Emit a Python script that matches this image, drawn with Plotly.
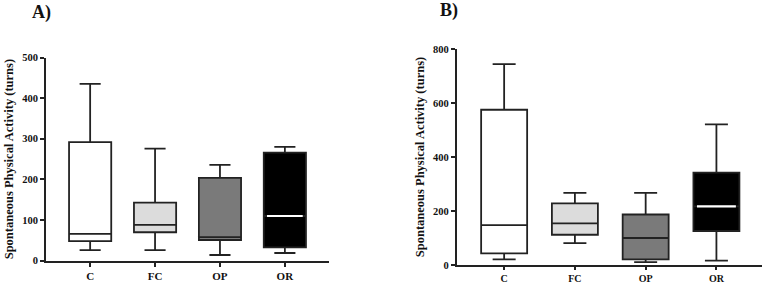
import plotly.graph_objects as go

categories = ["C", "FC", "OP", "OR"]
fills = ["#ffffff", "#dcdcdc", "#7a7a7a", "#000000"]
median_colors = ["#222222", "#222222", "#222222", "#ffffff"]

# Panel A
a_low = [26, 26, 14, 19]
a_q1 = [48, 70, 51, 33]
a_med = [66, 88, 58, 110]
a_q3 = [292, 143, 204, 266]
a_high = [435, 276, 236, 280]

# Panel B
b_low = [21, 81, 11, 16]
b_q1 = [43, 112, 21, 126]
b_med = [148, 154, 100, 217]
b_q3 = [575, 228, 187, 342]
b_high = [744, 267, 267, 521]

W = 0.65
fig = go.Figure()

def add_panel(lo, q1, med, q3, hi, xa, ya):
    for i, c in enumerate(categories):
        fig.add_trace(go.Box(
            x=[i], q1=[q1[i]], median=[med[i]], q3=[q3[i]],
            lowerfence=[lo[i]], upperfence=[hi[i]],
            width=W, whiskerwidth=0.5, fillcolor=fills[i],
            line=dict(color="#222222", width=1.8),
            boxpoints=False, showlegend=False, hoverinfo="skip",
            xaxis=xa, yaxis=ya))
        if median_colors[i] != "#222222":
            fig.add_trace(go.Scatter(
                x=[i - W / 2 + 0.05, i + W / 2 - 0.05], y=[med[i], med[i]],
                mode="lines", line=dict(color=median_colors[i], width=2.2),
                showlegend=False, hoverinfo="skip", xaxis=xa, yaxis=ya))

add_panel(a_low, a_q1, a_med, a_q3, a_high, "x", "y")
add_panel(b_low, b_q1, b_med, b_q3, b_high, "x2", "y2")

xtick_font = dict(family="Liberation Serif", size=11, color="#111", weight="bold")
ytick_font = dict(family="Liberation Serif", size=10.5, color="#111", weight="bold")
title_font = dict(family="Liberation Serif", size=12.5, color="#111", weight="bold")

xcommon = dict(tickvals=[0, 1, 2, 3], ticktext=categories, showline=True,
               linecolor="#222", linewidth=1.8, ticks="outside", ticklen=4,
               tickwidth=1.8, tickcolor="#222", showgrid=False, zeroline=False,
               tickfont=xtick_font, fixedrange=True, automargin=False)
ycommon = dict(showline=True, linecolor="#222", linewidth=1.8, ticks="outside",
               ticklen=4, tickwidth=1.8, tickcolor="#222", showgrid=False,
               zeroline=False, tickfont=ytick_font, fixedrange=True, automargin=False,
               title=dict(text="Spontaneous Physical Activity (turns)",
                          font=title_font, standoff=6))

fig.update_layout(
    template="none",
    width=763, height=284,
    margin=dict(l=0, r=0, t=0, b=0, autoexpand=False),
    paper_bgcolor="white", plot_bgcolor="white",
    xaxis=dict(domain=[0.0603, 0.4312], range=[-0.68, 3.68], anchor="y", **xcommon),
    yaxis=dict(domain=[0.082, 0.7975], range=[0, 500], dtick=100, anchor="x", **ycommon),
    xaxis2=dict(domain=[0.5986, 0.9983], range=[-0.67, 3.64], anchor="y2", **xcommon),
    yaxis2=dict(domain=[0.0669, 0.8275], range=[0, 800], dtick=200, anchor="x2", **ycommon),
    annotations=[
        dict(text="<b>A)</b>", x=30 / 763, y=1 - 0 / 284, xref="paper", yref="paper", showarrow=False,
             xanchor="left", yanchor="top", font=dict(family="Liberation Serif", size=18, color="#111")),
        dict(text="<b>B)</b>", x=438 / 763, y=1 + 2 / 284, xref="paper", yref="paper", showarrow=False,
             xanchor="left", yanchor="top", font=dict(family="Liberation Serif", size=18, color="#111")),
    ],
)
fig.update_layout(xaxis2_tickfont_size=10, xaxis2_ticklen=3)

fig.write_html("out.html", config={"displayModeBar": False},
               post_script="document.body.style.margin='0';document.body.style.overflow='hidden';")
